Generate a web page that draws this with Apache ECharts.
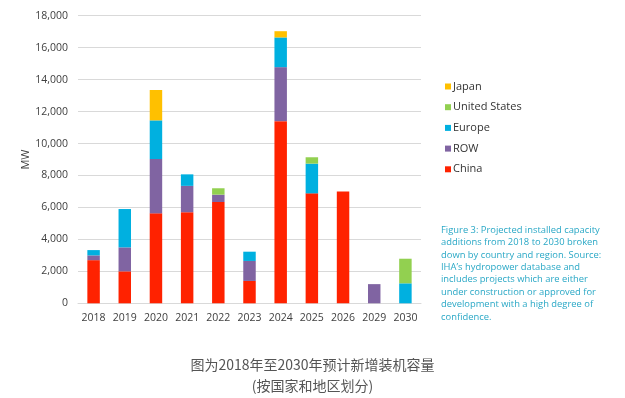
<!DOCTYPE html>
<html>
<head>
<meta charset="utf-8">
<script src="https://cdn.jsdelivr.net/npm/echarts@6/dist/echarts.min.js"></script>
<style>
  html, body { margin: 0; padding: 0; background: #fff; }
  #chart { width: 625px; height: 398px; }
</style>
</head>
<body>
<div id="chart"></div>
<script>
var years = ['2018', '2019', '2020', '2021', '2022', '2023', '2024', '2025', '2026', '2029', '2030'];
var china = [2700, 2000, 5630, 5700, 6340, 1400, 11400, 6880, 7000, '-', '-'];
var row = [300, 1500, 3400, 1650, 460, 1250, 3380, '-', '-', 1200, '-'];
var europe = [330, 2400, 2420, 720, '-', 580, 1860, 1860, '-', '-', 1250];
var us = ['-', '-', '-', '-', 400, '-', '-', 400, '-', '-', 1540];
var japan = ['-', '-', 1900, '-', '-', '-', 390, '-', '-', '-', '-'];
var yTicks = [0, 2000, 4000, 6000, 8000, 10000, 12000, 14000, 16000, 18000];

var captionLines = [
    'Figure 3: Projected installed capacity',
    'additions from 2018 to 2030 broken',
    'down by country and region. Source:',
    'IHA\u2019s hydropower database and',
    'includes projects which are either',
    'under construction or approved for',
    'development with a high degree of',
    'confidence.'
];

var chart = echarts.init(document.getElementById('chart'));

function bar(name, data, color) {
    return {
        name: name,
        type: 'bar',
        stack: 'total',
        barWidth: '40%',
        itemStyle: { color: color },
        data: data
    };
}

chart.setOption({
    animation: false,
    textStyle: { fontFamily: 'Open Sans' },
    grid: { left: 78, right: 204, top: 15.7, bottom: 94.7 },
    legend: {
        orient: 'vertical',
        left: 440,
        top: 76,
        itemWidth: 6,
        itemHeight: 6,
        itemGap: 9.7,
        icon: 'rect',
        textStyle: { fontSize: 11, color: '#333', padding: [0, 0, 0, -3] },
        data: ['Japan', 'United States', 'Europe', 'ROW', 'China']
    },
    xAxis: {
        type: 'category',
        data: years,
        axisTick: { show: false },
        axisLine: { lineStyle: { color: '#d9d9d9' } },
        axisLabel: { color: '#404040', fontSize: 10.5, margin: 9, interval: 0 }
    },
    yAxis: {
        type: 'value',
        min: 0,
        max: 18000,
        interval: 2000,
        name: 'MW',
        nameLocation: 'middle',
        nameMoveOverlap: false,
        nameGap: 47,
        nameTextStyle: { color: '#404040', fontSize: 11 },
        axisLabel: {
            color: '#404040',
            fontSize: 10.5,
            margin: 10,
            formatter: function (v) { return yTicks.indexOf(v) >= 0 ? v.toLocaleString('en-US') : ''; }
        },
        splitLine: { lineStyle: { color: '#d9d9d9' } }
    },
    series: [
        bar('China', china, '#ff2200'),
        bar('ROW', row, '#8064a2'),
        bar('Europe', europe, '#00b0e0'),
        bar('United States', us, '#92d050'),
        bar('Japan', japan, '#ffc000')
    ],
    graphic: [
        {
            type: 'text',
            left: 441,
            top: 224,
            style: {
                text: captionLines.join('\n'),
                fill: '#2aa8c6',
                font: '9.4px "Open Sans"',
                lineHeight: 12.4
            }
        },
        {
            type: 'text',
            left: 'center',
            top: 358,
            style: {
                text: '图为2018年至2030年预计新增装机容量',
                fill: '#555',
                font: '14px "Noto Sans CJK SC"'
            }
        },
        {
            type: 'text',
            left: 'center',
            top: 379,
            style: {
                text: '(按国家和地区划分)',
                fill: '#555',
                font: '14px "Noto Sans CJK SC"'
            }
        }
    ]
});
</script>
</body>
</html>
